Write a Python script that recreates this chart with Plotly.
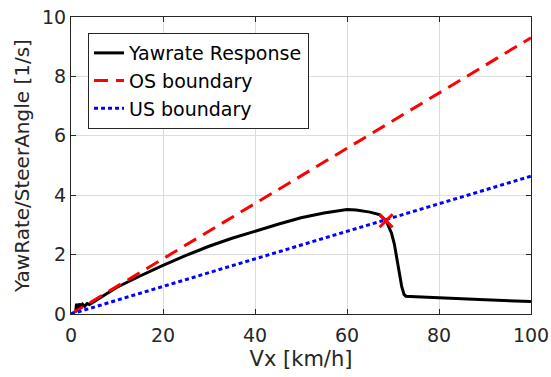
import plotly.graph_objects as go

# Data
vx = [1.0, 1.2, 1.5, 1.8, 2.1, 2.5, 3.0, 3.5, 4.0, 5.0, 7.5, 10, 15, 20, 25, 30, 35, 40, 45, 50,
      55, 60, 62, 65, 67, 68.5, 69.7, 70.3, 70.8, 71.3, 71.9, 72.4, 72.8, 75, 80, 90, 100]
yaw = [0.05, 0.35, 0.18, 0.35, 0.22, 0.33, 0.26, 0.35, 0.32, 0.42, 0.66, 0.9, 1.28, 1.64, 1.97, 2.28, 2.55, 2.79, 3.02, 3.24,
       3.4, 3.52, 3.5, 3.43, 3.35, 3.14, 2.71, 2.35, 1.93, 1.4, 0.92, 0.66, 0.6, 0.58, 0.54, 0.48, 0.42]

bound_x = [0, 100]
os_y = [0, 9.3]
us_y = [0, 4.64]

cross_x = [68.5]
cross_y = [3.14]

xticks = [0, 20, 40, 60, 80, 100]
yticks = [0, 2, 4, 6, 8, 10]

FONT = "DejaVu Sans"

fig = go.Figure()
fig.add_trace(go.Scatter(x=vx, y=yaw, mode="lines", name="Yawrate Response",
                         line=dict(color="black", width=3)))
fig.add_trace(go.Scatter(x=bound_x, y=os_y, mode="lines", name="OS boundary",
                         line=dict(color="red", width=3, dash="14px,8px")))
fig.add_trace(go.Scatter(x=bound_x, y=us_y, mode="lines", name="US boundary",
                         line=dict(color="blue", width=3, dash="4px,3px")))
fig.add_trace(go.Scatter(x=cross_x, y=cross_y, mode="markers", showlegend=False,
                         marker=dict(symbol="x-thin", size=13, line=dict(color="red", width=3))))

axis_common = dict(showline=True, linecolor="#262626", linewidth=1.2, mirror="ticks",
                   ticks="inside", ticklen=5, tickcolor="#262626", automargin=False,
                   ticklabeloverflow="allow",
                   showgrid=True, gridcolor="#dcdcdc", gridwidth=1, zeroline=False,
                   tickfont=dict(family=FONT, size=19, color="#262626"))

fig.update_layout(
    width=551, height=377,
    margin=dict(l=71, r=20, t=17, b=63),
    paper_bgcolor="white", plot_bgcolor="white",
    font=dict(family=FONT, color="#262626"),
    xaxis=dict(range=[0, 100], tickvals=xticks, ticklabelstandoff=4,
               title=dict(text="Vx [km/h]", font=dict(size=21), standoff=6), **axis_common),
    yaxis=dict(range=[0, 10], tickvals=yticks,
               title=dict(text="YawRate/SteerAngle [1/s]", font=dict(size=20), standoff=6), **axis_common),
    legend=dict(x=0.037, y=0.946, xanchor="left", yanchor="top",
                bgcolor="white", bordercolor="#262626", borderwidth=1,
                font=dict(size=19, color="black"), tracegroupgap=0, itemwidth=30),
    showlegend=True,
)

fig.write_html("out.html", config={"displayModeBar": False},
               post_script="document.body.style.margin='0';")
